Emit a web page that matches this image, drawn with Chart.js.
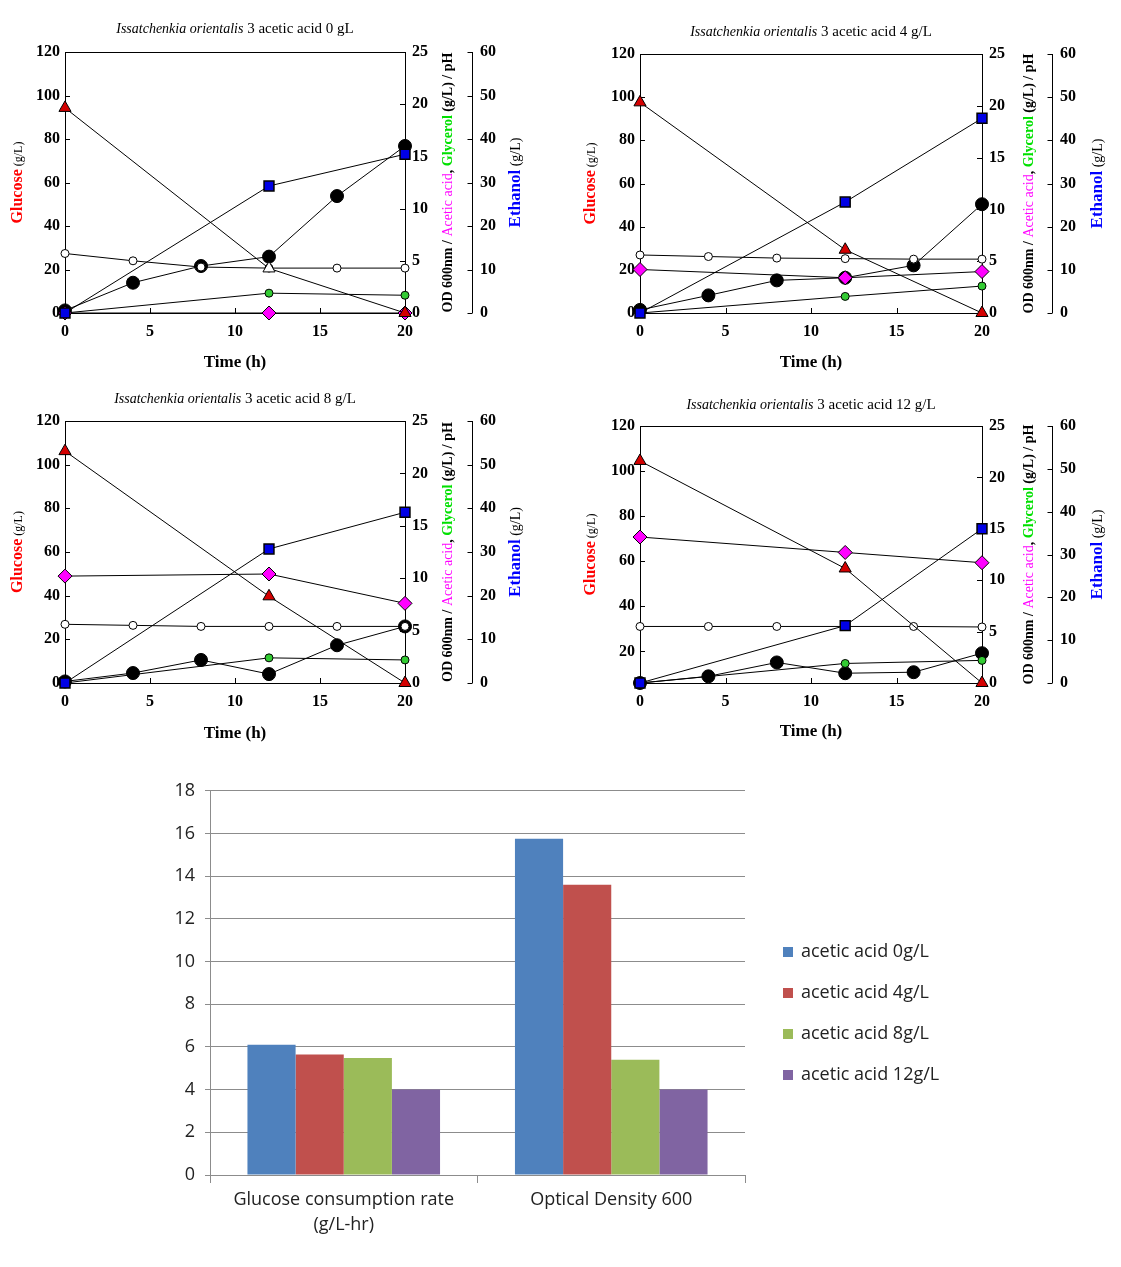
<!DOCTYPE html>
<html><head><meta charset="utf-8">
<script src="https://cdn.jsdelivr.net/npm/chart.js@4.4.1/dist/chart.umd.min.js"></script>
<style>
html,body{margin:0;padding:0;background:#fff;width:1121px;height:1267px;overflow:hidden}
canvas{position:absolute}
</style></head><body>
<canvas id="p1" width="560" height="370" style="left:0;top:10px"></canvas>
<canvas id="p2" width="551" height="370" style="left:570px;top:10px"></canvas>
<canvas id="p3" width="560" height="370" style="left:0;top:380px"></canvas>
<canvas id="p4" width="551" height="370" style="left:570px;top:380px"></canvas>
<canvas id="bar" width="820" height="480" style="left:160px;top:770px"></canvas>
<script>
// ---------- data: time courses ----------
const timeOD = [0, 4, 8, 12, 16, 20];      // OD600 and pH sampling times (h)
const timeHPLC = [0, 12, 20];              // glucose, ethanol, acetic acid, glycerol sampling times (h)

// acetic acid 0 g/L
const glucose0 = [94.3, 20.5, 0];
const ethanol0 = [0, 29.2, 36.5];
const acetic0 = [0, 0, 0];
const glycerol0 = [0, 1.9, 1.7];
const od0 = [0.25, 2.9, 4.5, 5.4, 11.2, 16.0];
const ph0 = [5.7, 5.0, 4.4, 4.3, 4.3, 4.3];

// acetic acid 4 g/L
const glucose4 = [97.6, 29.3, 0];
const ethanol4 = [0, 25.7, 45.1];
const acetic4 = [4.2, 3.4, 4.0];
const glycerol4 = [0, 1.6, 2.6];
const od4 = [0.3, 1.7, 3.15, 3.4, 4.6, 10.5];
const ph4 = [5.6, 5.45, 5.3, 5.25, 5.2, 5.2];

// acetic acid 8 g/L
const glucose8 = [106.2, 39.7, 0];
const ethanol8 = [0, 30.7, 39.1];
const acetic8 = [10.2, 10.4, 7.6];
const glycerol8 = [0, 2.4, 2.2];
const od8 = [0.15, 0.95, 2.2, 0.85, 3.6, 5.4];
const ph8 = [5.6, 5.5, 5.4, 5.4, 5.4, 5.4];

// acetic acid 12 g/L
const glucose12 = [104.5, 56.8, 6];
const ethanol12 = [0, 13.4, 36.0];
const acetic12 = [14.2, 12.7, 11.7];
const glycerol12 = [0, 1.9, 2.2];
const od12 = [0, 0.65, 2.0, 0.95, 1.05, 2.9];
const ph12 = [5.5, 5.5, 5.5, 5.5, 5.5, 5.45];

const panelTitles = [' 3 acetic acid 0 gL', ' 3 acetic acid 4 g/L', ' 3 acetic acid 8 g/L', ' 3 acetic acid 12 g/L'];

// ---------- data: bar chart ----------
const barCategories = [['Glucose consumption rate', '(g/L-hr)'], 'Optical Density 600'];
const barSeriesNames = ['acetic acid 0g/L', 'acetic acid 4g/L', 'acetic acid 8g/L', 'acetic acid 12g/L'];
const barAcetic0 = [6.1, 15.75];
const barAcetic4 = [5.65, 13.6];
const barAcetic8 = [5.48, 5.4];
const barAcetic12 = [4.0, 4.0];

// ---------- styling ----------
const SERIF = '"Liberation Serif", "Times New Roman", serif';
const tickFont = {family: SERIF, weight: 'bold', size: 16};

function drawRich(ctx, segs, cx, cy, rot) {
  ctx.save();
  ctx.translate(cx, cy);
  ctx.rotate(rot);
  ctx.textBaseline = 'alphabetic';
  ctx.textAlign = 'left';
  let total = 0;
  const widths = segs.map(s => { ctx.font = s.font; const w = ctx.measureText(s.text).width; total += w; return w; });
  let x = -total / 2;
  segs.forEach((s, i) => { ctx.font = s.font; ctx.fillStyle = s.color; ctx.fillText(s.text, x, 5); x += widths[i]; });
  ctx.restore();
}

const decoPlugin = {
  id: 'deco',
  beforeDatasetsDraw(chart, args, o) {
    const {ctx, chartArea: a, scales} = chart;
    ctx.save();
    ctx.strokeStyle = '#000';
    ctx.lineWidth = 1;
    ctx.strokeRect(Math.round(a.left) + 0.5, Math.round(a.top) + 0.5, Math.round(a.right - a.left), Math.round(a.bottom - a.top));
    const y3 = scales.y3;
    const lx = Math.round(y3.left) + 0.5;
    ctx.beginPath();
    ctx.moveTo(lx, y3.top); ctx.lineTo(lx, y3.bottom);
    const tl = 5;
    scales.x.ticks.forEach(t => { const p = Math.round(scales.x.getPixelForValue(t.value)) + 0.5; ctx.moveTo(p, a.bottom); ctx.lineTo(p, a.bottom - tl); });
    scales.y.ticks.forEach(t => { const p = Math.round(scales.y.getPixelForValue(t.value)) + 0.5; ctx.moveTo(a.left, p); ctx.lineTo(a.left + tl, p); });
    scales.y2.ticks.forEach(t => { const p = Math.round(scales.y2.getPixelForValue(t.value)) + 0.5; ctx.moveTo(a.right, p); ctx.lineTo(a.right - tl, p); });
    y3.ticks.forEach(t => { const p = Math.round(y3.getPixelForValue(t.value)) + 0.5; ctx.moveTo(lx, p); ctx.lineTo(lx - tl, p); });
    ctx.stroke();
    ctx.restore();
  },
  afterDraw(chart, args, o) {
    const {ctx, chartArea: a} = chart;
    const cx = (a.left + a.right) / 2, cy = (a.top + a.bottom) / 2;
    drawRich(ctx, [
      {text: 'Issatchenkia orientalis', font: 'italic 14px ' + SERIF, color: '#000'},
      {text: o.title, font: '15px ' + SERIF, color: '#000'}
    ], cx, o.titleY, 0);
    drawRich(ctx, [{text: 'Time (h)', font: 'bold 17px ' + SERIF, color: '#000'}], cx, o.timeY, 0);
    drawRich(ctx, [
      {text: 'Glucose', font: 'bold 16px ' + SERIF, color: '#ff0000'},
      {text: ' (g/L)', font: '12px ' + SERIF, color: '#000'}
    ], o.gX, cy, -Math.PI / 2);
    drawRich(ctx, [
      {text: 'OD 600nm / ', font: 'bold 14px ' + SERIF, color: '#000'},
      {text: 'Acetic acid', font: '14px ' + SERIF, color: '#ff00ff'},
      {text: ', ', font: 'bold 14px ' + SERIF, color: '#000'},
      {text: 'Glycerol', font: 'bold 14px ' + SERIF, color: '#00e000'},
      {text: ' (g/L) / pH', font: 'bold 14px ' + SERIF, color: '#000'}
    ], o.odX, cy, -Math.PI / 2);
    drawRich(ctx, [
      {text: 'Ethanol', font: 'bold 17px ' + SERIF, color: '#0000ff'},
      {text: ' (g/L)', font: '14px ' + SERIF, color: '#000'}
    ], o.etX, cy, -Math.PI / 2);
  }
};

function series(label, xs, ys, axis, style) {
  return Object.assign({
    label, yAxisID: axis,
    data: xs.map((x, i) => ({x, y: ys[i]})),
    showLine: true, borderColor: '#000', borderWidth: 1, tension: 0, clip: false,
    pointBorderColor: '#000', pointBorderWidth: 1
  }, style);
}

function makePanel(cfg) {
  const canvas = document.getElementById(cfg.id);
  const W = canvas.width, H = canvas.height;
  const noGrid = {display: false, drawTicks: false};
  new Chart(canvas, {
    type: 'scatter',
    data: {datasets: [
      series('Ethanol', timeHPLC, cfg.ethanol, 'y3', {pointStyle: 'rect', pointRadius: 7, pointBackgroundColor: '#0000e6', pointBorderWidth: 1.5}),
      series('Glucose', timeHPLC, cfg.glucose, 'y', {pointStyle: 'triangle', pointRadius: 7, pointBackgroundColor: cfg.glucoseFill}),
      series('Acetic acid', timeHPLC, cfg.acetic, 'y2', {pointStyle: 'rectRot', pointRadius: 7, pointBackgroundColor: '#ff00ff'}),
      series('Glycerol', timeHPLC, cfg.glycerol, 'y2', {pointStyle: 'circle', pointRadius: 4, pointBackgroundColor: '#33cc33'}),
      series('pH', timeOD, cfg.ph, 'y2', {pointStyle: 'circle', pointRadius: 4, pointBackgroundColor: '#ffffff'}),
      series('OD 600nm', timeOD, cfg.od, 'y2', {pointStyle: 'circle', pointRadius: 6.5, pointBackgroundColor: '#000000'})
    ]},
    options: {
      responsive: false, animation: false, events: [],
      layout: {padding: {top: cfg.T, left: 0, right: 0, bottom: 0}},
      plugins: {legend: {display: false}, tooltip: {enabled: false}, deco: cfg},
      scales: {
        x: {type: 'linear', min: 0, max: 20, ticks: {stepSize: 5, font: tickFont, color: '#000', padding: 9},
            grid: noGrid, border: {display: false}, afterFit: s => { s.height = H - cfg.B; }},
        y: {position: 'left', min: cfg.gMin, max: 120, ticks: {stepSize: 20, font: tickFont, color: '#000', padding: 5, includeBounds: false},
            grid: noGrid, border: {display: false}, afterFit: s => { s.width = cfg.L; }},
        y2: {position: 'right', min: 0, max: 25, ticks: {stepSize: 5, font: tickFont, color: '#000', padding: 7},
            grid: noGrid, border: {display: false}, afterFit: s => { s.width = cfg.y3x - cfg.R; }},
        y3: {position: 'right', weight: 1, min: 0, max: 60, ticks: {stepSize: 10, font: tickFont, color: '#000', padding: 8},
            grid: noGrid, border: {display: false}, afterFit: s => { s.width = W - cfg.y3x; }}
      }
    },
    plugins: [decoPlugin]
  });
}

const leftCol = {L: 65, R: 405, y3x: 472, gX: 17, odX: 447, etX: 515};
const rightCol = {L: 70, R: 412, y3x: 482, gX: 20, odX: 458, etX: 527};
const red = '#d40000';

makePanel(Object.assign({id: 'p1', title: panelTitles[0], T: 42, B: 303, titleY: 18, timeY: 352, gMin: 0,
  glucose: glucose0, ethanol: ethanol0, acetic: acetic0, glycerol: glycerol0, od: od0, ph: ph0,
  glucoseFill: [red, '#ffffff', red]}, leftCol));
makePanel(Object.assign({id: 'p2', title: panelTitles[1], T: 44, B: 303, titleY: 21, timeY: 352, gMin: 0,
  glucose: glucose4, ethanol: ethanol4, acetic: acetic4, glycerol: glycerol4, od: od4, ph: ph4,
  glucoseFill: red}, rightCol));
makePanel(Object.assign({id: 'p3', title: panelTitles[2], T: 41, B: 303, titleY: 18, timeY: 353, gMin: 0,
  glucose: glucose8, ethanol: ethanol8, acetic: acetic8, glycerol: glycerol8, od: od8, ph: ph8,
  glucoseFill: red}, leftCol));
makePanel(Object.assign({id: 'p4', title: panelTitles[3], T: 46, B: 303, titleY: 24, timeY: 351, gMin: 6,
  glucose: glucose12, ethanol: ethanol12, acetic: acetic12, glycerol: glycerol12, od: od12, ph: ph12,
  glucoseFill: red}, rightCol));

// ---------- bar chart ----------
const barColors = ['#4f81bd', '#c0504d', '#9bbb59', '#8064a2'];
const barValues = [barAcetic0, barAcetic4, barAcetic8, barAcetic12];
const sans = '"Open Sans", "Liberation Sans", sans-serif';

const barLegendPlugin = {
  id: 'barLegend',
  afterDraw(chart) {
    const ctx = chart.ctx;
    ctx.save();
    ctx.font = '18px ' + sans;
    ctx.textBaseline = 'middle';
    ctx.textAlign = 'left';
    chart.data.datasets.forEach((ds, i) => {
      const y = 182 + i * 41;
      ctx.fillStyle = ds.backgroundColor;
      ctx.fillRect(623, y - 5, 10, 10);
      ctx.fillStyle = '#222';
      ctx.fillText(ds.label, 641, y);
    });
    ctx.restore();
  }
};

new Chart(document.getElementById('bar'), {
  type: 'bar',
  data: {
    labels: barCategories,
    datasets: barSeriesNames.map((name, i) => ({label: name, data: barValues[i], backgroundColor: barColors[i], borderWidth: 0,
      categoryPercentage: 0.72, barPercentage: 1.0}))
  },
  options: {
    responsive: false, animation: false, events: [],
    layout: {padding: {top: 20, left: 0, right: 235, bottom: 0}},
    plugins: {tooltip: {enabled: false}, legend: {display: false}},
    scales: {
      x: {grid: {drawOnChartArea: false, tickLength: 8, color: '#8c8c8c', offset: true}, border: {color: '#8c8c8c'},
          ticks: {font: {family: sans, size: 18, lineHeight: 1.35}, color: '#222', padding: 5}, afterFit: s => { s.height = 75; }},
      y: {min: 0, max: 18, ticks: {stepSize: 2, font: {family: sans, size: 18}, color: '#222', padding: 10},
          grid: {color: '#8c8c8c', tickLength: 5}, border: {color: '#8c8c8c'}, afterFit: s => { s.width = 50; }}
    }
  },
  plugins: [barLegendPlugin]
});
</script>
</body></html>
